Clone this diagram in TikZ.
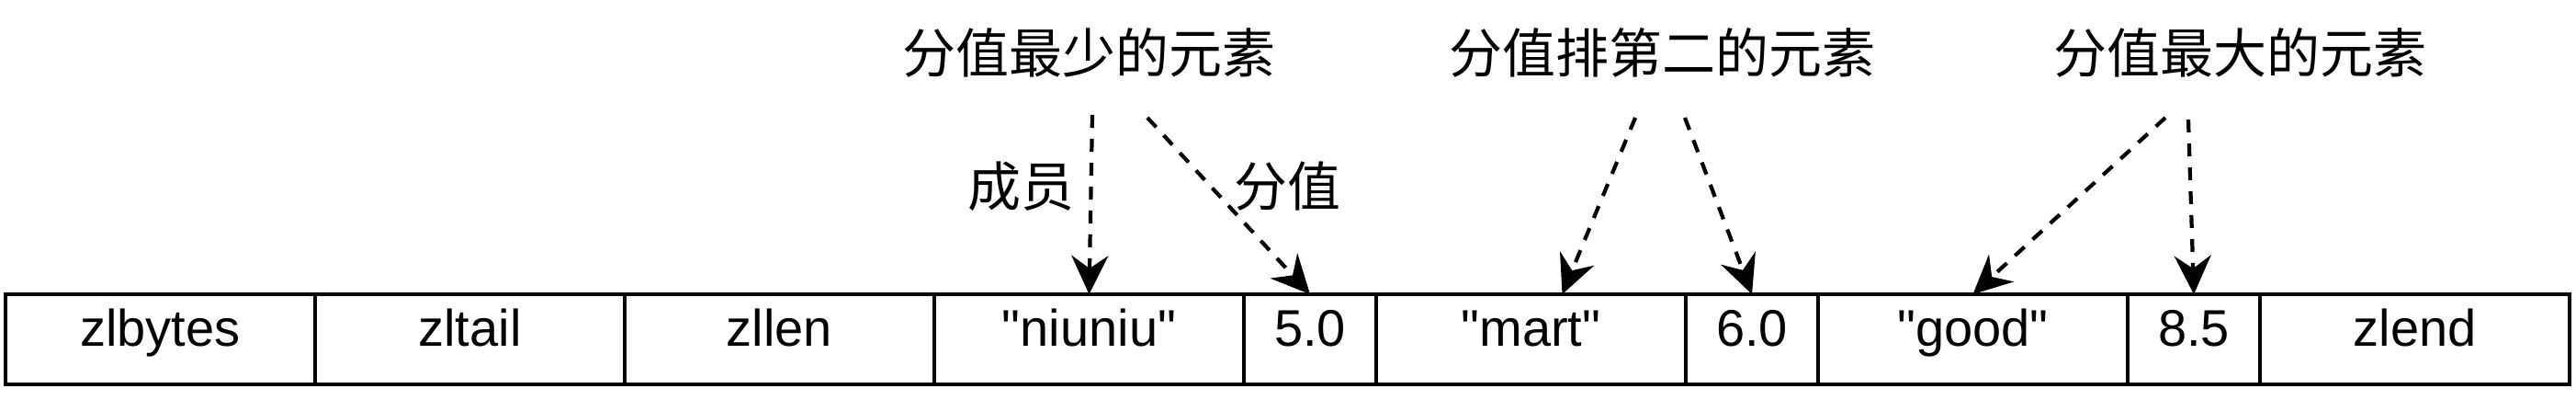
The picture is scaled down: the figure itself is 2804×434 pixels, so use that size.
\documentclass[tikz,border=0pt]{standalone}
\usepackage{fontspec}
\newfontfamily\lat{Liberation Sans}
\newfontfamily\cjk{Noto Sans CJK SC}
\usetikzlibrary{arrows.meta,positioning,calc}
\begin{document}
\begin{tikzpicture}[x=0.5pt,y=-0.5pt,
  cell/.style={draw, line width=2.3pt, minimum height=49pt, inner sep=0pt, outer sep=0pt,
    text height=0.72em, text depth=0pt, font=\lat\fontsize{28pt}{34pt}\selectfont},
  wide/.style={cell, minimum width=168.5pt},
  narrow/.style={cell, minimum width=72pt},
  title/.style={font=\cjk\fontsize{29pt}{34pt}\selectfont, inner sep=0pt},
  ptr/.style={line width=2.1pt, dash pattern=on 7pt off 6pt,
    -{Stealth[length=21pt,width=20pt,inset=7pt]}}
]
\useasboundingbox (0,0) rectangle (2804,434);
% memory cells
\node[wide, anchor=west] (zlbytes) at (6,369) {zlbytes};
\node[wide, right=0pt of zlbytes] (zltail) {zltail};
\node[wide, right=0pt of zltail] (zllen) {zllen};
\node[wide, right=0pt of zllen] (niuniu) {"niuniu"};
\node[narrow, right=0pt of niuniu] (s50) {5.0};
\node[wide, right=0pt of s50] (mart) {"mart"};
\node[narrow, right=0pt of mart] (s60) {6.0};
\node[wide, right=0pt of s60] (good) {"good"};
\node[narrow, right=0pt of good] (s85) {8.5};
\node[wide, right=0pt of s85] (zlend) {zlend};
% titles and labels
\node[title] (t1) at (1185,57) {分值最少的元素};
\node[title] (t2) at (1809,57) {分值排第二的元素};
\node[title] (t3) at (2438,57) {分值最大的元素};
\node[title] (lm) at (1111,203) {成员};
\node[title] (ls) at (1401,203) {分值};
% arrow start points
\coordinate (a1s) at (1189,125);
\coordinate (a2s) at (1249,128);
\coordinate (a3s) at (1780,128);
\coordinate (a4s) at (1834,128);
\coordinate (a5s) at (2357,128);
\coordinate (a6s) at (2382,130);
\coordinate (martin) at ($(mart.north)+(34,0)$);
% arrows
\draw[ptr] (a1s) -- (niuniu.north);
\draw[ptr] (a2s) -- (s50.north);
\draw[ptr] (a3s) -- (martin);
\draw[ptr] (a4s) -- (s60.north);
\draw[ptr] (a5s) -- (good.north);
\draw[ptr] (a6s) -- (s85.north);
\end{tikzpicture}
\end{document}
